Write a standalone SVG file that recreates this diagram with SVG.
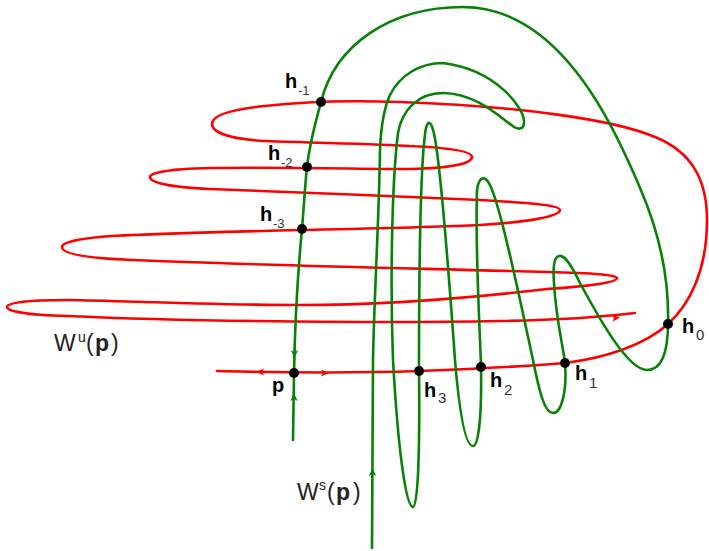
<svg xmlns="http://www.w3.org/2000/svg" width="709" height="551" viewBox="0 0 709 551">
<style>
.red{fill:none;stroke:#ff0000;stroke-width:2.6;stroke-linejoin:round;stroke-linecap:round}
.grn{fill:none;stroke:#078207;stroke-width:2.6;stroke-linejoin:round;stroke-linecap:round}
.dot{fill:#000}
.lb{font-family:"Liberation Sans",Arial,sans-serif;fill:#000}
.h{font-size:20px;font-weight:bold}
.sub{font-size:13px;fill:#333;font-weight:normal}
.sub2{font-size:15px;fill:#333;font-weight:normal}
.w{font-size:23px;fill:#222}
.ah-r{fill:#ff0000}
.ah-g{fill:#078207}
</style>
<defs>
<path id="ah" d="M0,0 L-8,-3.6 L-6,0 L-8,3.6 Z"/>
</defs>
<g id="connectors">
<path id="Wu" class="red" d="M217,371 C260,372 330,374 419,371 C470,369 530,366 565,363 C605,358 645,345 668,324 C690,304 707,270 707,220 C707,180 692,152 655,137 C615,120 520,106 400,102 C340,100 290,103 265,106 C225,110 212,117 212,124 C212,132 228,139 265,141 C320,143 380,144 410,146 C455,148 472,152 472,157 C472,163 455,168 410,169 C360,169 290,167 210,168 C165,169 150,173 150,177 C150,182 165,187 210,189 C280,192 400,196 480,200 C530,203 560,205 560,210 C560,216 530,222 480,225 C400,229 250,230 133,235 C80,237 62,242 62,247 C62,253 80,258 133,260 C250,265 400,268 547,272 C595,273 617,275 617,278 C617,282 595,286 547,289 C470,298 380,305 300,305 C200,305 100,300 67,300 C25,300 7,303 7,307 C7,311 25,315 67,316 C200,322 400,323 500,321 C560,320 610,316 635,313"/>
<path id="Ws" class="grn" d="M293,440 L294,373 C295,320 299,260 302,229 C304,205 305,185 307,167 C310,140 315,125 321,102 C335,45 390,7 463,7 C540,7 590,80 623,150 C643,192 670,250 668,323 C668,345 665,370 647,370 C628,370 600,320 580,283 C570,262 564,255 559,256 C553,257 553,270 554,283 C556,320 563,345 565,363 C567,390 562,413 553,413 C545,413 540,395 533,360 C518,290 500,205 490,185 C485,175 479,176 477,190 C475,250 480,330 481,367 C482,420 478,446 473,446 C466,446 460,420 455,360 C450,290 440,150 433,130 C431,122 428,120 426,128 C420,160 419,300 419,372 C420,450 418,507 413,507 C406,507 398,450 393,360 C390,280 392,180 398,133 C402,110 418,93 443,93 C475,93 500,117 514,127 C519,130 524,129 524,122 C525,110 498,70 443,63 C420,63 400,75 390,95 C385,106 381,125 380,150 C379,220 374,300 373,360 L372,548"/>
<use href="#ah" class="ah-r" transform="translate(256,372) rotate(180)"/>
<use href="#ah" class="ah-r" transform="translate(329,373)"/>
<use href="#ah" class="ah-r" transform="translate(620,317.5) rotate(-4)"/>
<use href="#ah" class="ah-g" transform="translate(294.5,358) rotate(90)"/>
<use href="#ah" class="ah-g" transform="translate(294,393) rotate(-90)"/>
<use href="#ah" class="ah-g" transform="translate(372.5,468) rotate(-90)"/>
</g>
<g id="node-h-1"><circle class="dot" cx="321" cy="102" r="5"/><text class="lb h" x="285" y="88">h<tspan class="sub" x="298" y="95">-1</tspan></text></g>
<g id="node-h-2"><circle class="dot" cx="307" cy="167" r="5"/><text class="lb h" x="268" y="160">h<tspan class="sub" x="281" y="167">-2</tspan></text></g>
<g id="node-h-3"><circle class="dot" cx="302" cy="229" r="5"/><text class="lb h" x="260" y="221">h<tspan class="sub" x="273" y="228">-3</tspan></text></g>
<g id="node-p"><circle class="dot" cx="294" cy="373" r="5"/><text class="lb h" x="272" y="392">p</text></g>
<g id="node-h3"><circle class="dot" cx="419" cy="371" r="5"/><text class="lb h" x="424" y="397">h<tspan class="sub2" x="438" y="403">3</tspan></text></g>
<g id="node-h2"><circle class="dot" cx="481" cy="367" r="5"/><text class="lb h" x="490" y="387">h<tspan class="sub2" x="504" y="395">2</tspan></text></g>
<g id="node-h1"><circle class="dot" cx="565" cy="363" r="5"/><text class="lb h" x="575" y="380">h<tspan class="sub2" x="589" y="388">1</tspan></text></g>
<g id="node-h0"><circle class="dot" cx="668" cy="324" r="5"/><text class="lb h" x="682" y="333">h<tspan class="sub2" x="696" y="340">0</tspan></text></g>
<g id="label-Wu"><text class="lb w" x="54" y="351">W<tspan font-size="14" x="78" y="342">u</tspan><tspan x="86" y="351">(</tspan><tspan font-weight="bold" x="95">p</tspan><tspan x="111">)</tspan></text></g>
<g id="label-Ws"><text class="lb w" x="297" y="500">W<tspan font-size="14" x="319" y="490">s</tspan><tspan x="327" y="500">(</tspan><tspan font-weight="bold" x="336">p</tspan><tspan x="353">)</tspan></text></g>
</svg>
